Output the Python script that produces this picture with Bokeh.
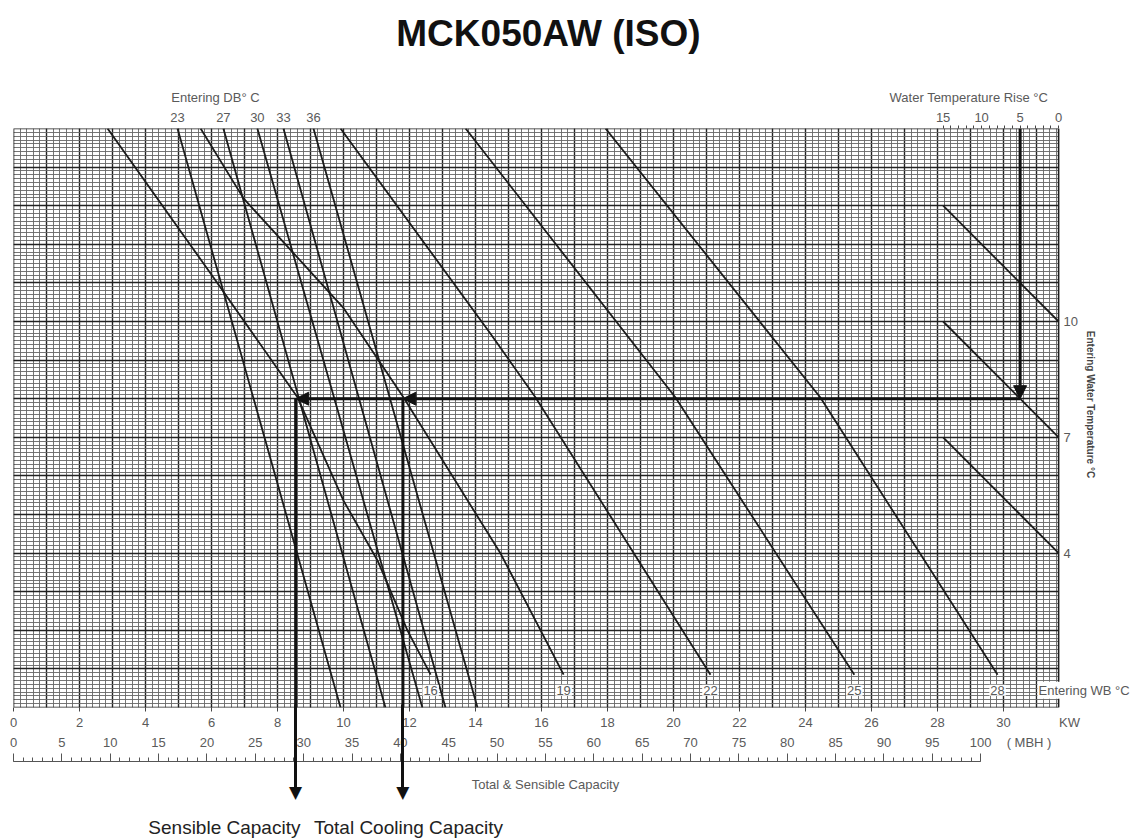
import math
from bokeh.plotting import figure
from bokeh.models import (Range1d, LinearAxis, FixedTicker, SingleIntervalTicker,
                          Grid, Label, Arrow, NormalHead, CustomLabelingPolicy)
from bokeh.embed import file_html
from bokeh.resources import INLINE

# ---------------- data ----------------
title_text = "MCK050AW (ISO)"

# Total capacity lines, one per entering WB (kW vs entering water temp degC)
wb_values = [16, 19, 22, 25, 28]
wb16_kw = [2.85, 6.06, 8.61, 10.00, 11.03, 11.94, 12.64]
wb16_ewt = [15.0, 11.14, 8.03, 5.36, 3.81, 1.99, 0.85]
wb19_kw = [5.67, 6.97, 9.99, 11.82, 14.76, 16.67]
wb19_ewt = [15.0, 13.19, 10.36, 8.03, 3.99, 0.85]
wb22_kw = [9.91, 14.45, 15.82, 21.12]
wb22_ewt = [15.0, 9.69, 8.03, 0.85]
wb25_kw = [13.70, 20.06, 25.48]
wb25_ewt = [15.0, 8.03, 0.85]
wb28_kw = [17.94, 24.45, 29.82]
wb28_ewt = [15.0, 8.03, 0.85]

# Sensible capacity lines, one per entering DB (straight from 15 degC to 0 degC)
db_values = [23, 27, 30, 33, 36]
db_ewt = [15.0, 0.0]
db_kw_top = [4.97, 6.36, 7.39, 8.18, 9.09]
db_kw_bottom = [9.91, 11.27, 12.39, 13.09, 14.06]

# Water temperature rise lines (rise degC -> entering water temp degC)
rise_span = [15, 0]
rise_line1_ewt = [13, 10]
rise_line2_ewt = [10, 7]
rise_line3_ewt = [7, 4]

# Worked example (arrows)
ex_rise = 5
ex_ewt = 8.0
ex_total_kw = 11.8
ex_sensible_kw = 8.55

# Tick values
kw_ticks = list(range(0, 31, 2))
mbh_ticks = list(range(0, 101, 5))
mbh_minor = list(range(0, 101))
rise_ticks = [15, 10, 5, 0]
rise_minor = list(range(0, 16))
ewt_ticks = [4, 7, 10]

# ---------------- layout constants ----------------
FONT = "Liberation Sans"
GRAY = "#5a5a5a"
INK = "#1c1c1c"
XMAX = 31.67          # right edge of the chart grid (kW)
X_END = 34.03         # right edge of the drawing frame (kW)
YMAX = 15.0
KW_TO_MBH = 3.412
KW_PER_RISE = 0.2333

def rise_to_kw(r):
    return XMAX - r * KW_PER_RISE

def ovr(mapping):
    d = {}
    for k, v in mapping.items():
        d[k] = v
        d[str(k)] = v
    return d

p = figure(frame_width=1123, frame_height=579,
           x_range=Range1d(0, X_END), y_range=Range1d(0, YMAX),
           output_backend="svg", toolbar_location=None,
           x_axis_location=None, y_axis_location=None,
           min_border_left=13, min_border_right=0,
           min_border_top=128, min_border_bottom=133,
           background_fill_color="white", border_fill_color="white")
p.grid.visible = False
p.outline_line_color = None
p.extra_x_ranges = {"mbh": Range1d(0, X_END * KW_TO_MBH),
                    "rise": Range1d(XMAX / KW_PER_RISE, (XMAX - X_END) / KW_PER_RISE)}

gx = Grid(dimension=0, bounds=(0, XMAX),
          ticker=SingleIntervalTicker(interval=1, num_minor_ticks=5),
          grid_line_color="#222222", grid_line_width=1.4,
          minor_grid_line_color="#666666", minor_grid_line_width=0.9)
gy = Grid(dimension=1, ticker=SingleIntervalTicker(interval=1, num_minor_ticks=10),
          grid_line_color="#222222", grid_line_width=1.4,
          minor_grid_line_color="#666666", minor_grid_line_width=0.9)
p.add_layout(gx)
p.add_layout(gy)

# blank the frame strip right of the chart, then the chart border
p.quad(left=[XMAX], right=[X_END], bottom=[0], top=[YMAX],
       fill_color="white", line_color=None)
p.quad(left=[0], right=[XMAX], bottom=[0], top=[YMAX],
       fill_color=None, line_color="#1e1e1e", line_width=1.6)

# ---------------- curves ----------------
wb_lines = [(wb16_kw, wb16_ewt), (wb19_kw, wb19_ewt), (wb22_kw, wb22_ewt),
            (wb25_kw, wb25_ewt), (wb28_kw, wb28_ewt)]
for kw, t in wb_lines:
    p.line(kw, t, line_color=INK, line_width=1.8)
for top, bot in zip(db_kw_top, db_kw_bottom):
    p.line([top, bot], db_ewt, line_color=INK, line_width=1.8)
for t in (rise_line1_ewt, rise_line2_ewt, rise_line3_ewt):
    p.line(rise_span, t, x_range_name="rise", line_color=INK, line_width=1.8)

# ---------------- axes ----------------
def style_axis(ax, size="13px", color=GRAY, font=FONT):
    ax.major_label_text_font = font
    ax.major_label_text_font_size = size
    ax.major_label_text_color = color
    ax.major_tick_line_color = "#444444"
    ax.minor_tick_line_color = "#444444"
    ax.axis_line_color = None

# --- above: DB values (left) and water temperature rise (right) on one row
top_ticks = list(db_kw_top) + [rise_to_kw(r) for r in rise_ticks]
top_labels = [str(v) for v in db_values] + [str(r) for r in rise_ticks]
ax_top = LinearAxis(ticker=FixedTicker(ticks=top_ticks,
                                       minor_ticks=[rise_to_kw(r) for r in rise_minor]),
                    major_tick_out=0, major_tick_in=0, minor_tick_out=3, minor_tick_in=0,
                    major_label_standoff=4,
                    major_label_overrides=ovr(dict(zip(top_ticks, top_labels))))
style_axis(ax_top)
p.add_layout(ax_top, "above")

sub_ticks = [6.12, 29.06]
sub_labels = ["Entering DB° C", "Water Temperature Rise   °C"]
ax_sub = LinearAxis(ticker=FixedTicker(ticks=sub_ticks),
                    major_tick_out=0, major_tick_in=0, minor_tick_out=0, minor_tick_in=0,
                    major_label_standoff=5,
                    major_label_overrides=ovr(dict(zip(sub_ticks, sub_labels))))
style_axis(ax_sub)
p.add_layout(ax_sub, "above")

title_tick = 16.21
ax_title = LinearAxis(ticker=FixedTicker(ticks=[title_tick]),
                      major_tick_out=0, major_tick_in=0, minor_tick_out=0, minor_tick_in=0,
                      major_label_standoff=33,
                      major_label_overrides=ovr({title_tick: title_text}))
style_axis(ax_title, size="37px", color="#111111")
ax_title.major_label_text_font_style = "bold"
p.add_layout(ax_title, "above")

# --- below: kW scale
ax_kw = LinearAxis(ticker=FixedTicker(ticks=kw_ticks + [32], minor_ticks=kw_ticks),
                   major_tick_out=0, major_tick_in=0, minor_tick_out=4, minor_tick_in=0,
                   major_label_standoff=3,
                   major_label_overrides=ovr({32: "KW"}))
style_axis(ax_kw)
p.add_layout(ax_kw, "below")

# --- below: MBH numbers
mbh_lab_ticks = mbh_ticks + [105]
ax_mbh = LinearAxis(x_range_name="mbh", ticker=FixedTicker(ticks=mbh_lab_ticks),
                    major_tick_out=0, major_tick_in=0, minor_tick_out=0, minor_tick_in=0,
                    major_label_standoff=2,
                    major_label_overrides=ovr({105: "( MBH )"}),
                    axis_label=" ", axis_label_text_font_size="5px",
                    axis_label_standoff=0)
style_axis(ax_mbh)
p.add_layout(ax_mbh, "below")

# --- below: MBH ruler with its caption
cap_tick = 55
ax_ruler = LinearAxis(x_range_name="mbh", bounds=(0, 100),
                      ticker=FixedTicker(ticks=mbh_ticks, minor_ticks=mbh_minor),
                      major_tick_in=8, major_tick_out=0, minor_tick_in=4, minor_tick_out=0,
                      major_label_standoff=15,
                      major_label_overrides=ovr({cap_tick: "Total & Sensible Capacity"}),
                      major_label_policy=CustomLabelingPolicy(
                          args=dict(keep=mbh_ticks.index(cap_tick)),
                          code="for (const i of indices) { if (i != keep) indices.unset(i) } return indices"))
style_axis(ax_ruler)
ax_ruler.axis_line_color = "#555555"
ax_ruler.major_tick_line_color = "#555555"
ax_ruler.minor_tick_line_color = "#555555"
p.add_layout(ax_ruler, "below")

# --- below: the two example arrows leaving the chart
arr_ticks = [ex_sensible_kw, ex_total_kw]
ax_arr = LinearAxis(ticker=FixedTicker(ticks=arr_ticks),
                    major_tick_in=90, major_tick_out=0, minor_tick_in=0, minor_tick_out=0,
                    major_label_standoff=-13,
                    major_label_overrides=ovr({ex_sensible_kw: "▼", ex_total_kw: "▼"}))
style_axis(ax_arr, size="17px", color="#111111", font="DejaVu Sans")
ax_arr.major_tick_line_color = "#111111"
ax_arr.major_tick_line_width = 3
p.add_layout(ax_arr, "below")

cap2_ticks = [6.39, 11.97]
ax_cap2 = LinearAxis(ticker=FixedTicker(ticks=cap2_ticks),
                     major_tick_out=0, major_tick_in=0, minor_tick_out=0, minor_tick_in=0,
                     major_label_standoff=12,
                     major_label_overrides=ovr(dict(zip(cap2_ticks,
                                                        ["Sensible Capacity",
                                                         "Total Cooling Capacity"]))))
style_axis(ax_cap2, size="19px", color="#222222")
p.add_layout(ax_cap2, "below")

# ---------------- labels inside the frame ----------------
def lab(x, y, text, size="13px", color=GRAY, align="center", baseline="middle",
        style="normal", bg=None, x_offset=0, angle=0.0):
    l = Label(x=x, y=y, text=text, text_font=FONT, text_font_size=size,
              text_color=color, text_align=align, text_baseline=baseline,
              text_font_style=style, x_offset=x_offset, angle=angle)
    if bg:
        l.background_fill_color = bg
        l.padding = 1
    p.add_layout(l)

for v, (kw, t) in zip(wb_values, wb_lines):
    lab(kw[-1], 0.45, str(v), bg="white")
lab(31.03, 0.45, "Entering WB  °C", align="left", bg="white")
for v in ewt_ticks:
    lab(XMAX, v, str(v), align="left", x_offset=5)
lab(XMAX, 7.85, "Entering Water Temperature °C", size="10px", color="#444444",
    style="bold", x_offset=32, angle=-math.pi / 2)

# ---------------- example arrows (inside the chart) ----------------
def head():
    return NormalHead(size=13, fill_color="#111111", line_color="#111111")

ex_start_kw = rise_to_kw(ex_rise)
for xs, ys, xe, ye in [
    (ex_start_kw, YMAX, ex_start_kw, ex_ewt),
    (ex_start_kw, ex_ewt, ex_total_kw, ex_ewt),
    (ex_total_kw, ex_ewt, ex_sensible_kw, ex_ewt),
]:
    p.add_layout(Arrow(end=head(), x_start=xs, y_start=ys, x_end=xe, y_end=ye,
                       line_color="#111111", line_width=3))
p.segment(x0=arr_ticks, y0=[ex_ewt, ex_ewt], x1=arr_ticks, y1=[0, 0],
          line_color="#111111", line_width=3)

open("out.html", "w").write(file_html(p, INLINE))
